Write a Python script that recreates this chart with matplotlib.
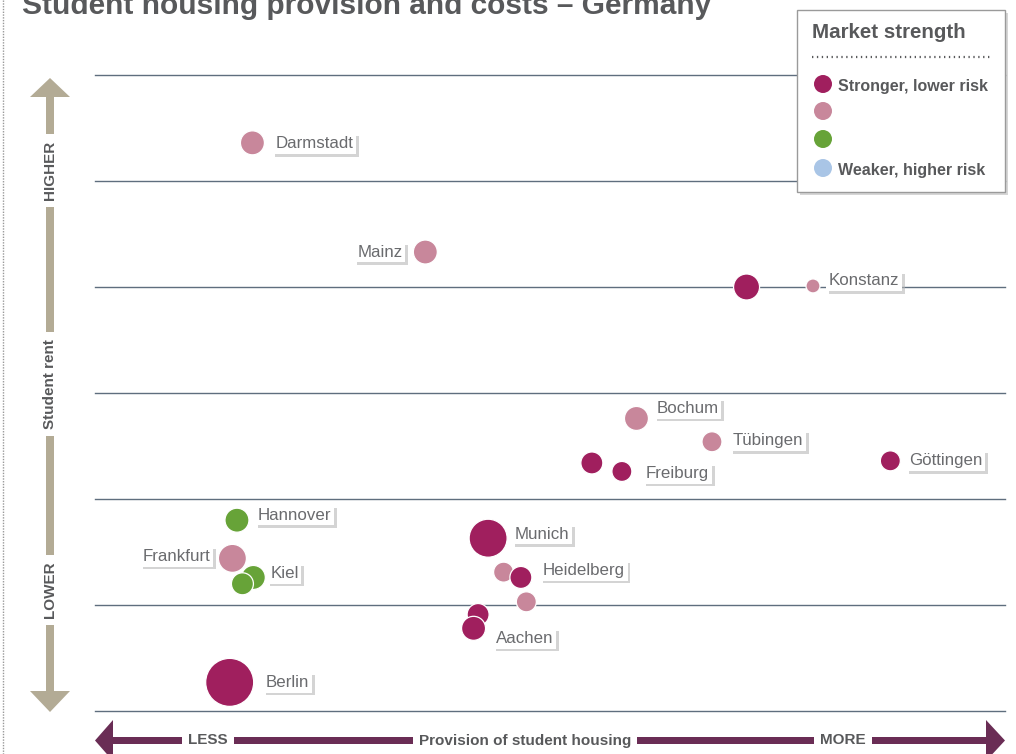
import matplotlib
matplotlib.use("Agg")
import matplotlib.pyplot as plt
import matplotlib.patheffects as pe
from matplotlib.patches import Polygon, Rectangle, Circle

plt.rcParams['font.family'] = ['Liberation Sans', 'DejaVu Sans']

# ---------------- data ----------------
# provision of student housing (0 = less, 100 = more)
provision = [17.3, 36.3, 71.6, 78.9, 59.5, 67.8, 54.6, 57.9, 87.4,
             15.6, 15.1, 17.4, 16.2, 43.2, 44.9, 46.8, 47.4, 42.1, 41.6, 14.8]
# student rent (0 = lower, 6 = higher)
rent = [5.36, 4.33, 4.00, 4.01, 2.76, 2.54, 2.34, 2.26, 2.36,
        1.80, 1.44, 1.26, 1.20, 1.63, 1.31, 1.26, 1.03, 0.91, 0.78, 0.27]
# bubble size (relative radius)
bubble_size = [12, 12, 13, 7, 12, 10, 11, 10, 10,
               12, 14, 12, 11, 19, 10, 11, 10, 11, 12, 24]
# market strength class
strength = ['mid', 'mid', 'strong', 'mid', 'mid', 'mid', 'strong', 'strong', 'strong',
            'green', 'mid', 'green', 'green', 'strong', 'mid', 'strong', 'mid', 'strong', 'strong', 'strong']

# city labels: (name, index of bubble it belongs to)
label_names = ['Darmstadt', 'Mainz', 'Konstanz', 'Bochum', 'Tübingen', 'Freiburg', 'Göttingen',
               'Hannover', 'Frankfurt', 'Kiel', 'Munich', 'Heidelberg', 'Aachen', 'Berlin']
label_bubble = [0, 1, 3, 4, 5, 7, 8, 9, 10, 11, 13, 15, 18, 19]

legend_classes = ['strong', 'mid', 'green', 'weak']
legend_texts = ['Stronger, lower risk', '', '', 'Weaker, higher risk']

title = 'Student housing provision and costs – Germany'

# ---------------- styles ----------------
colors = {'strong': '#a01f5e', 'mid': '#c8879b', 'green': '#67a338', 'weak': '#a9c5e6'}
# label offsets in pixels (dx, dy) and alignment
label_offsets = {'Darmstadt': (23, -1, 'left'), 'Mainz': (-23, 0, 'right'),
                 'Konstanz': (16, 5, 'left'), 'Bochum': (20, 10, 'left'),
                 'Tübingen': (21, 1, 'left'), 'Freiburg': (24, -2, 'left'),
                 'Göttingen': (19, 0, 'left'), 'Hannover': (21, 5, 'left'),
                 'Frankfurt': (-22, 2, 'right'), 'Kiel': (17, 4, 'left'),
                 'Munich': (27, 4, 'left'), 'Heidelberg': (22, 7, 'left'),
                 'Aachen': (22, -10, 'left'), 'Berlin': (36, 0, 'left')}
text_grey = '#6a6b6e'
dark_grey = '#58595b'
grid_col = '#5f6e7e'
tan = '#b3ab95'
plum = '#6a2d55'

W, H = 1016, 754
fig = plt.figure(figsize=(W / 100, H / 100), dpi=100)
fig.patch.set_facecolor('white')

# main axes: pixel box x 95..1005, y 75..711
ax = fig.add_axes([95 / W, (H - 711) / H, 910 / W, 636 / H])
ax.set_xlim(0, 100)
ax.set_ylim(0, 6)
ax.axis('off')
for gy in range(0, 7):
    ax.axhline(gy, color=grid_col, lw=1.0, zorder=1, clip_on=False)

sizes = [(2 * r * 0.72) ** 2 for r in bubble_size]
ax.scatter(provision, rent, s=sizes, c=[colors[c] for c in strength],
           edgecolors='white', linewidths=0.9, zorder=3, clip_on=False)

shadow = [pe.SimplePatchShadow(offset=(2, -2), shadow_rgbFace='0.72', alpha=0.6), pe.Normal()]
for name, bi in zip(label_names, label_bubble):
    dx, dy, ha = label_offsets[name]
    t = ax.annotate(name, xy=(provision[bi], rent[bi]), xytext=(dx, dy),
                    textcoords='offset pixels', ha=ha, va='center',
                    fontsize=12.2, color=text_grey, zorder=5,
                    bbox=dict(boxstyle='square,pad=0.16', fc='white', ec='none'))
    t.get_bbox_patch().set_path_effects(shadow)

# overlay axes in pixel coordinates for decorations
ov = fig.add_axes([0, 0, 1, 1], zorder=10)
ov.set_xlim(0, W)
ov.set_ylim(H, 0)
ov.axis('off')
ov.patch.set_alpha(0)

# left dotted border
ov.plot([3, 3], [0, H], color='0.6', lw=1, ls=(0, (1, 1)))

# title
ov.text(22, 14, title, fontsize=21.5, fontweight='bold', color=dark_grey,
        ha='left', va='baseline')

# vertical axis arrow
ov.add_patch(Rectangle((46, 96), 8, 596, fc=tan, ec='none'))
ov.add_patch(Polygon([(30, 97), (70, 97), (50, 78)], closed=True, fc=tan, ec='none'))
ov.add_patch(Polygon([(30, 691), (70, 691), (50, 712)], closed=True, fc=tan, ec='none'))
for txt, yy in [('HIGHER', 170), ('Student rent', 384), ('LOWER', 590)]:
    ov.text(50, yy, txt, rotation=90, ha='center', va='center', fontsize=11,
            fontweight='bold', color=dark_grey,
            bbox=dict(boxstyle='square,pad=0.45', fc='white', ec='none'))

# horizontal axis arrow
ov.add_patch(Rectangle((110, 737), 877, 7, fc=plum, ec='none'))
ov.add_patch(Polygon([(113, 720), (113, 761), (95, 740.5)], closed=True, fc=plum, ec='none'))
ov.add_patch(Polygon([(986, 720), (986, 761), (1005, 740.5)], closed=True, fc=plum, ec='none'))
for txt, xx in [('LESS', 208), ('Provision of student housing', 525), ('MORE', 843)]:
    ov.text(xx, 740.5, txt, ha='center', va='center', fontsize=11,
            fontweight='bold', color=dark_grey,
            bbox=dict(boxstyle='square,pad=0.4', fc='white', ec='none'))

# legend box
ov.add_patch(Rectangle((800, 13), 208, 182, fc='0.55', ec='none', alpha=0.35))
ov.add_patch(Rectangle((797, 10), 208, 182, fc='white', ec='#9a9a9a', lw=1))
ov.text(812, 33, 'Market strength', fontsize=14.8, fontweight='bold', color=dark_grey,
        ha='left', va='center')
ov.plot([812, 990], [57, 57], color=dark_grey, lw=1.6, ls=(0, (0.6, 1.6)))
for i, (cl, lt) in enumerate(zip(legend_classes, legend_texts)):
    yy = [84, 111, 139, 168][i]
    ov.add_patch(Circle((823, yy), 9, fc=colors[cl], ec='none'))
    if lt:
        ov.text(838, yy + 2, lt, fontsize=11.5, fontweight='bold', color=dark_grey,
                ha='left', va='center')

fig.savefig('out.png', dpi=100)
